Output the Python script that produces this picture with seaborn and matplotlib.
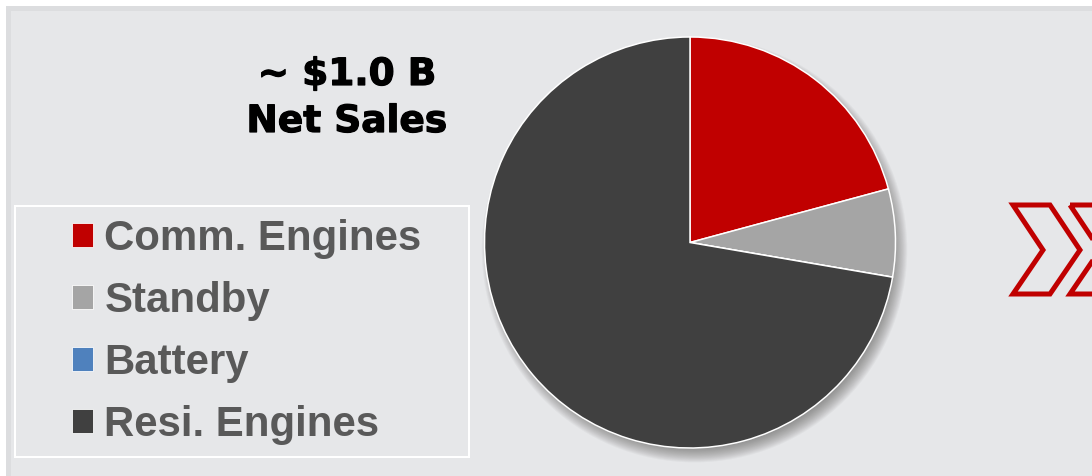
import matplotlib
matplotlib.use("Agg")
import matplotlib.pyplot as plt
from matplotlib.patches import Rectangle, Polygon, Circle
import matplotlib.patheffects as pe
import seaborn as sns

# Net sales split by business segment (% of ~$1.0B)
segments = ["Comm. Engines", "Standby", "Battery", "Resi. Engines"]
share = [20.8, 6.9, 0.0, 72.3]
segment_colors = ["#c00000", "#a5a5a5", "#4f81bd", "#404040"]
headline = ["~ $1.0 B", "Net Sales"]

sns.set_theme(style="white")
palette = sns.color_palette(segment_colors)
plt.rcParams["font.family"] = ["Liberation Sans", "DejaVu Sans"]

W, H, DPI = 1092, 476, 100
fig = plt.figure(figsize=(W / DPI, H / DPI), dpi=DPI, facecolor="white")
PT = 72 / DPI  # points per pixel

# Background layer in pixel coordinates
bg = fig.add_axes([0, 0, 1, 1], zorder=0)
bg.set_xlim(0, W)
bg.set_ylim(H, 0)
bg.axis("off")
bg.add_patch(Rectangle((6, 6), W, H, facecolor="#dcdddf", edgecolor="none"))
bg.add_patch(Rectangle((11, 11), W, H, facecolor="#e6e7e9", edgecolor="none"))

# Legend box outline
bg.add_patch(Rectangle((15, 206), 454, 251, facecolor="none",
                       edgecolor="white", lw=2 * PT))

# Headline
for txt, base in zip(headline, [85, 132]):
    bg.text(347, base, txt, ha="center", va="baseline",
            fontsize=37.5 * PT, fontweight="bold", color="black",
            family="DejaVu Sans",
            path_effects=[pe.withStroke(linewidth=1.2 * PT, foreground="black")])

# Double chevron arrow on the right
chev = [(1013, 205), (1050, 205), (1080, 250), (1050, 294), (1013, 294), (1043, 250)]
for off in (0, 57):
    bg.add_patch(Polygon([(x + off, y) for x, y in chev], closed=True,
                         facecolor="none", edgecolor="#c00000",
                         lw=5 * PT, joinstyle="miter"))

# Pie axes: centre (690, 242.5) px, radius 205.5 px
R = 205.5
cx, cy = 690, 242.5
S = 2 * 1.25 * R
ax = fig.add_axes([(cx - S / 2) / W, (H - cy - S / 2) / H, S / W, S / H], zorder=2)
ax.set_facecolor("none")

# soft drop shadow towards the lower right
for i in range(16):
    r = 1.035 - i * 0.005
    ax.add_patch(Circle((0.022, -0.035), r, facecolor="#555555",
                        edgecolor="none", alpha=0.05, zorder=0))

wedges, _ = ax.pie(share, colors=palette, startangle=90, counterclock=False,
                   radius=1.0,
                   wedgeprops=dict(edgecolor="white", linewidth=1.5 * PT))
for w in wedges:
    w.set_zorder(2)
ax.set_xlim(-1.25, 1.25)
ax.set_ylim(-1.25, 1.25)
ax.axis("off")

# Legend
leg = bg.legend(wedges, segments, loc="upper left",
                bbox_to_anchor=(72, 219), bbox_transform=bg.transData,
                frameon=False, borderpad=0, borderaxespad=0,
                handlelength=0.5, handleheight=0.5,
                handletextpad=0.27, labelspacing=0.52,
                labelcolor="#595959", prop=dict(weight="bold", size=42 * PT))
for h in leg.legend_handles:
    h.set_edgecolor("white")
    h.set_linewidth(0.8 * PT)

fig.savefig("out.png", dpi=DPI, facecolor="white")
